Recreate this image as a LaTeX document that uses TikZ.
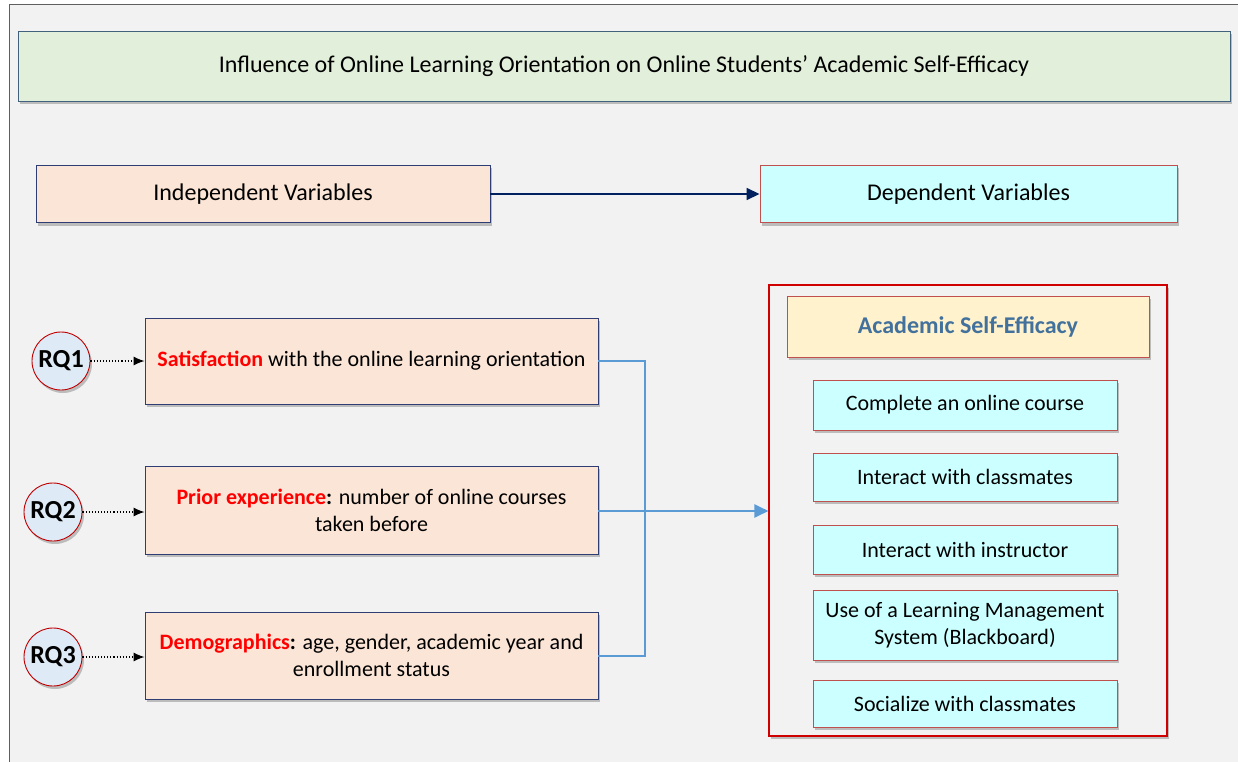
\documentclass[tikz,border=0pt]{standalone}
\usepackage{fontspec}
\setmainfont{Carlito}
\usepackage{xcolor}
\usetikzlibrary{arrows.meta,calc,shadows}
\definecolor{bg}{HTML}{F2F2F2}
\definecolor{frame}{HTML}{5F5F5F}
\definecolor{titlefill}{HTML}{E2EFDA}
\definecolor{titleline}{HTML}{41617D}
\definecolor{ivfill}{HTML}{FBE5D6}
\definecolor{ivline}{HTML}{2E3D73}
\definecolor{dvfill}{HTML}{CCFFFF}
\definecolor{dvline}{HTML}{C0504D}
\definecolor{navy}{HTML}{002060}
\definecolor{rqfill}{HTML}{DEEBF7}
\definecolor{rqline}{HTML}{C00000}
\definecolor{groupline}{HTML}{D00000}
\definecolor{link}{HTML}{5B9BD5}
\definecolor{asefill}{HTML}{FFF2CC}
\definecolor{asetext}{HTML}{41719C}
\definecolor{hot}{HTML}{FF0000}
\tikzset{
  shadowed/.style={drop shadow={shadow xshift=2pt, shadow yshift=-3pt, fill=black, opacity=0.22}},
  txt/.style={font=\fontsize{22}{27}\selectfont, text=black, align=center, inner sep=0pt},
  big/.style={font=\fontsize{24}{28}\selectfont},
  titlebox/.style={txt, big, draw=titleline, fill=titlefill, line width=0.9pt, shadowed},
  ivbox/.style={txt, draw=ivline, fill=ivfill, line width=0.9pt, shadowed},
  dvbox/.style={txt, draw=dvline, fill=dvfill, line width=0.9pt, shadowed},
  rq/.style={circle, draw=rqline, fill=rqfill, line width=0.9pt, minimum size=58pt,
    inner sep=0pt, font=\fontsize{26}{28}\selectfont\bfseries, shadowed},
  dots/.style={-{Latex[length=11pt,width=9pt]}, dotted, line width=1.1pt, draw=black},
  lineB/.style={line width=2pt, draw=link}
}
\begin{document}
\begin{tikzpicture}[x=1pt, y=-1pt]
  \useasboundingbox (0,0) rectangle (1238,762);
  \fill[bg] (9,4) rectangle (1240,764);
  \draw[frame, line width=0.9pt] (9,764) -- (9,4) -- (1240,4);

  \node[titlebox, minimum width=1212, minimum height=70] (title) at (624,66)
    {Influence of Online Learning Orientation on Online Students’ Academic Self-Efficacy};

  \node[ivbox, big, minimum width=454, minimum height=57] (iv) at (263,194) {Independent Variables};
  \node[dvbox, big, minimum width=417, minimum height=57] (dv) at (968.5,194) {Dependent Variables};
  \draw[-{Triangle[length=13pt,width=12pt]}, line width=1.6pt, draw=navy] (iv) -- (dv);

  % independent side
  \node[ivbox, minimum width=453, minimum height=86] (sat) at (371.5,361)
    {\textcolor{hot}{\bfseries Satisfaction} with the online learning orientation};
  \node[ivbox, minimum width=453, minimum height=88] (pri) at (371.5,510)
    {\textcolor{hot}{\bfseries Prior experience}\textbf{:} number of online courses\\taken before};
  \node[ivbox, minimum width=453, minimum height=87] (dem) at (371.5,655.5)
    {\textcolor{hot}{\bfseries Demographics}\textbf{:} age, gender, academic year and\\enrollment status};

  \node[rq] (rq1) at (61,361) {RQ1};
  \node[rq] (rq2) at (53,512) {RQ2};
  \node[rq] (rq3) at (53,657) {RQ3};
  \draw[dots] (rq1) -- (sat.west |- rq1);
  \draw[dots] (rq2) -- (pri.west |- rq2);
  \draw[dots] (rq3) -- (dem.west |- rq3);

  % dependent side
  \node[draw=groupline, line width=1.1pt, minimum width=398, minimum height=451, fill=bg, shadowed] (ase) at (968,510.5) {};
  \node[txt, draw=dvline, fill=asefill, line width=0.9pt, shadowed, minimum width=362, minimum height=61,
    text=asetext, font=\fontsize{24}{28}\selectfont\bfseries] (head) at (968,326.5) {Academic Self-Efficacy};
  \node[dvbox, minimum width=304, minimum height=50] (d1) at (965,405) {Complete an online course};
  \node[dvbox, minimum width=304, minimum height=48] (d2) at (965,477) {Interact with classmates};
  \node[dvbox, minimum width=304, minimum height=49] (d3) at (965,549.5) {Interact with instructor};
  \node[dvbox, minimum width=304, minimum height=70] (d4) at (965,625)
    {Use of a Learning Management\\System (Blackboard)};
  \node[dvbox, minimum width=304, minimum height=47] (d5) at (965,703.5) {Socialize with classmates};

  % connectors
  \coordinate (jn) at (645,361);
  \draw[lineB] (sat.east |- jn) -- (jn) -- (jn |- dem) -- (dem.east);
  \draw[lineB, -{Triangle[length=14pt,width=13pt]}] (pri.east |- 0,511) -- (ase.west |- 0,511);
\end{tikzpicture}
\end{document}
